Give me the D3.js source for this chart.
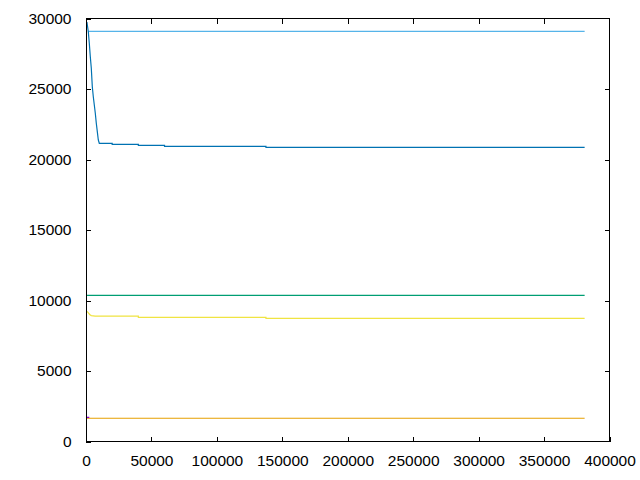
<!DOCTYPE html>
<html>
<head>
<meta charset="utf-8">
<script src="https://cdn.jsdelivr.net/npm/d3@7"></script>
<style>
  html, body { margin: 0; padding: 0; background: #fff; }
  svg { display: block; }
  text { font-family: "Liberation Sans", Arial, sans-serif; font-size: 15.5px; fill: #000; }
</style>
</head>
<body>
<svg id="chart" width="640" height="480"></svg>
<script>
// ---- data ----
const xTicks = [0, 50000, 100000, 150000, 200000, 250000, 300000, 350000, 400000];
const yTicks = [0, 5000, 10000, 15000, 20000, 25000, 30000];

const purpleX = [500, 2500];
const purpleY = [1710, 1710];

const greenX = [800, 381000];
const greenY = [10370, 10370];

const lightBlueX = [1500, 381000];
const lightBlueY = [29090, 29090];

const orangeX = [800, 381000];
const orangeY = [1650, 1650];

const yellowX = [800, 1800, 2800, 4000, 7000, 40000, 40000, 137500, 137500, 381000];
const yellowY = [9230, 9120, 9010, 8930, 8890, 8890, 8808, 8808, 8737, 8737];

const blueX = [700, 1757, 2521, 3286, 4050, 4814, 5578, 6342, 7106, 7870, 8634, 9398, 10162,
               20000, 20000, 40000, 40000, 60000, 60000, 137500, 137500, 381000];
const blueY = [29750, 29064, 28241, 27291, 26468, 25163, 24454, 23865, 23277, 22567, 21972, 21383, 21149,
               21149, 21078, 21078, 21007, 21007, 20936, 20936, 20865, 20865];

const series = [
  { x: greenX, y: greenY, color: "#009e73" },
  { x: lightBlueX, y: lightBlueY, color: "#56b4e9" },
  { x: orangeX, y: orangeY, color: "#e69f00" },
  { x: yellowX, y: yellowY, color: "#f0e442" },
  { x: blueX, y: blueY, color: "#0072b2" },
  { x: purpleX, y: purpleY, color: "#9400d3" }
];

// ---- layout ----
const L = 86, R = 609.5, T = 18.5, B = 441.5;
const x = d3.scaleLinear().domain([0, 400000]).range([L, R]);
const y = d3.scaleLinear().domain([0, 30000]).range([B, T]);

const svg = d3.select("#chart");

svg.append("clipPath").attr("id", "clip")
  .append("rect").attr("x", L).attr("y", T).attr("width", R - L).attr("height", B - T);

const line = d3.line().x(d => x(d[0])).y(d => y(d[1]));

const g = svg.append("g").attr("clip-path", "url(#clip)");
series.forEach(s => {
  const pts = s.x.map((v, i) => [v, s.y[i]]);
  g.append("path")
    .attr("d", line(pts))
    .attr("fill", "none")
    .attr("stroke", s.color)
    .attr("stroke-width", 1.2);
});

// ---- axes (gnuplot style, inward ticks mirrored) ----
const tickLen = 5;
const axB = svg.append("g").attr("transform", `translate(0,${B})`)
  .call(d3.axisBottom(x).tickValues(xTicks).tickSizeInner(-tickLen).tickSizeOuter(0).tickPadding(13).tickFormat(d3.format("d")));
const axT = svg.append("g").attr("transform", `translate(0,${T})`)
  .call(d3.axisTop(x).tickValues(xTicks.slice(1, -1)).tickSizeInner(-tickLen).tickSizeOuter(0).tickFormat(""));
const axL = svg.append("g").attr("transform", `translate(${L},0)`)
  .call(d3.axisLeft(y).tickValues(yTicks).tickSizeInner(-tickLen).tickSizeOuter(0).tickPadding(14.5).tickFormat(d3.format("d")));
const axR = svg.append("g").attr("transform", `translate(${R},0)`)
  .call(d3.axisRight(y).tickValues(yTicks.slice(1, -1)).tickSizeInner(-tickLen).tickSizeOuter(0).tickFormat(""));

[axB, axT, axL, axR].forEach(a => {
  a.select(".domain").remove();
  a.selectAll("line").attr("stroke", "#000").attr("stroke-width", 1).attr("shape-rendering", "crispEdges");
  a.selectAll("text").attr("font-family", "Liberation Sans, Arial, sans-serif").attr("font-size", "15.5px").attr("fill", "#000");
});
axB.selectAll("text").attr("dy", "0.71em");

svg.append("rect")
  .attr("x", L).attr("y", T).attr("width", R - L).attr("height", B - T)
  .attr("fill", "none").attr("stroke", "#000").attr("stroke-width", 1)
  .attr("shape-rendering", "crispEdges");
</script>
</body>
</html>
